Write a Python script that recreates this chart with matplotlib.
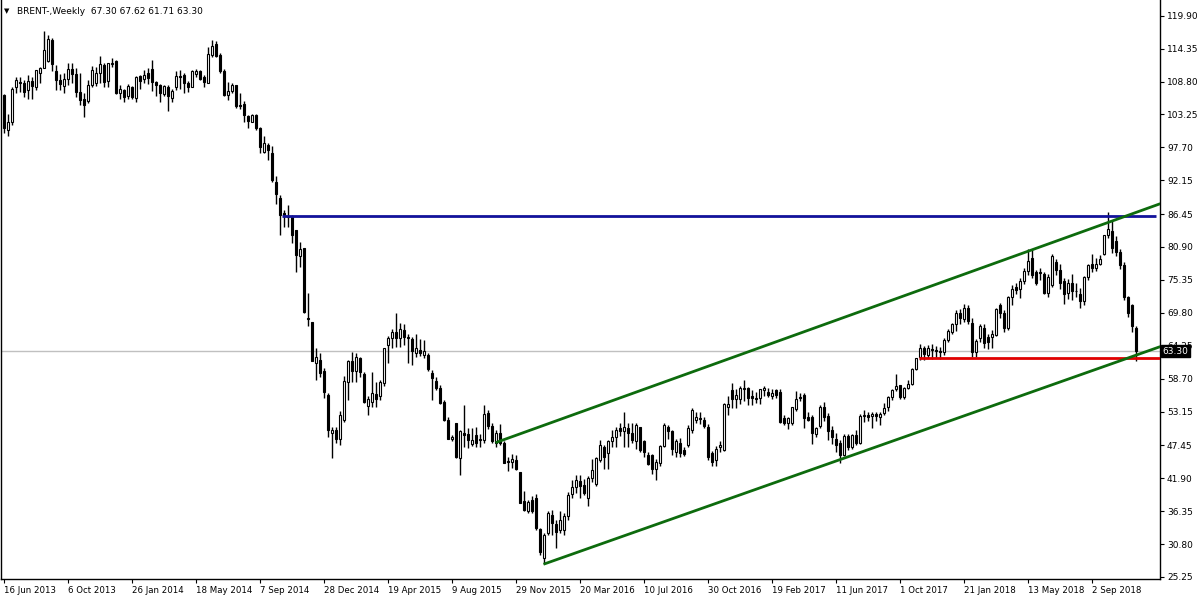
import matplotlib
matplotlib.use("Agg")
import matplotlib.pyplot as plt
import matplotlib.transforms as mtransforms
import numpy as np

# weekly Brent candles, one value per bar (bar 0 = week of 16 Jun 2013)
opens = [
    106.5, 100.7, 102.0, 107.9, 108.8, 108.6, 107.4, 108.9, 107.8, 110.3,
    111.1, 112.3, 115.8, 110.6, 109.1, 108.0, 109.2, 110.9, 110.1, 107.1,
    105.9, 105.6, 108.2, 108.5, 110.2, 111.6, 108.9, 111.8, 112.3, 106.9,
    107.4, 106.4, 107.9, 106.1, 109.7, 109.2, 110.2, 110.9, 108.7, 108.3,
    106.7, 107.9, 106.1, 107.8, 109.7, 109.9, 108.6, 107.9, 110.0, 110.6,
    109.6, 108.6, 113.2, 115.1, 113.3, 110.6, 106.5, 107.2, 108.2, 104.8,
    105.0, 103.0, 102.0, 103.2, 100.9, 97.0, 98.1, 96.8, 91.9, 89.1,
    86.6, 86.0, 86.0, 83.8, 79.3, 80.7, 69.0, 68.3, 61.4, 61.8,
    60.0, 55.9, 49.5, 50.0, 48.5, 51.8, 58.2, 61.7, 60.0, 62.1,
    59.4, 54.1, 54.8, 56.1, 55.7, 57.9, 64.4, 65.5, 66.5, 65.5,
    66.9, 65.8, 65.3, 63.0, 63.6, 62.7, 62.7, 59.7, 58.3, 57.2,
    54.8, 51.8, 48.5, 51.2, 45.3, 49.6, 49.3, 47.7, 49.2, 48.4,
    48.4, 52.9, 50.7, 47.9, 49.6, 47.9, 44.8, 44.6, 45.0, 43.0,
    38.1, 36.4, 38.3, 38.5, 33.3, 28.4, 32.6, 35.7, 34.2, 33.2,
    33.2, 35.5, 39.2, 40.5, 41.5, 40.8, 38.5, 42.0, 41.0, 45.0,
    47.2, 46.2, 48.1, 48.8, 50.3, 49.8, 50.3, 49.5, 48.1, 50.5,
    48.1, 45.8, 45.8, 43.4, 44.4, 47.3, 50.6, 49.8, 46.4, 47.9,
    46.6, 47.5, 50.0, 51.8, 52.0, 51.7, 50.6, 46.1, 44.9, 47.2,
    46.7, 54.0, 56.8, 55.2, 55.2, 57.0, 57.1, 55.7, 55.5, 55.4,
    56.8, 56.5, 55.8, 56.7, 56.5, 52.0, 51.3, 51.2, 53.5, 55.6,
    55.9, 52.3, 52.3, 49.4, 50.7, 54.0, 52.4, 50.0, 48.6, 47.8,
    45.8, 49.0, 47.2, 49.2, 47.9, 52.4, 52.6, 52.4, 52.7, 52.3,
    52.9, 53.9, 55.6, 56.9, 57.6, 55.6, 57.2, 57.8, 60.4, 62.4,
    63.8, 62.7, 63.7, 63.6, 63.3, 63.2, 65.2, 66.6, 67.9, 69.7,
    68.7, 70.6, 68.0, 63.2, 65.5, 67.2, 65.8, 65.7, 66.1, 71.1,
    69.7, 67.2, 72.5, 74.1, 73.8, 75.2, 76.9, 79.0, 76.7, 76.7,
    76.3, 73.1, 74.5, 78.4, 77.1, 75.2, 73.2, 74.9, 73.5, 72.9,
    71.8, 75.8, 78.0, 77.3, 78.0, 79.8, 82.9, 83.6, 81.9, 80.1,
    77.9, 72.5, 71.1, 67.30,
]
highs = [
    106.7, 103.4, 107.9, 109.5, 109.6, 109.1, 109.9, 109.6, 110.7, 111.3,
    117.3, 116.6, 116.1, 111.6, 110.0, 110.2, 112.0, 111.9, 111.0, 110.3,
    106.9, 109.1, 111.5, 111.3, 113.1, 112.0, 112.0, 112.7, 112.4, 108.2,
    107.6, 108.4, 108.0, 109.7, 109.9, 110.7, 111.0, 112.4, 108.9, 108.4,
    108.2, 108.2, 107.6, 110.5, 110.7, 110.2, 108.9, 110.7, 110.9, 110.7,
    109.9, 114.7, 115.8, 115.7, 113.6, 110.9, 108.8, 108.6, 108.2, 106.9,
    105.5, 103.2, 103.4, 103.3, 101.1, 99.6, 98.4, 97.9, 92.8, 89.7,
    87.2, 88.0, 86.3, 83.8, 81.8, 80.7, 73.1, 68.3, 63.8, 63.0,
    60.5, 56.2, 50.6, 50.5, 53.3, 59.1, 61.8, 63.2, 63.0, 62.4,
    59.9, 55.8, 59.8, 58.2, 58.5, 63.9, 65.9, 67.0, 69.7, 68.0,
    67.9, 66.3, 65.8, 66.3, 65.3, 65.2, 63.0, 60.2, 59.0, 57.6,
    55.1, 52.2, 49.2, 51.3, 50.0, 54.2, 50.3, 50.3, 50.6, 49.4,
    54.3, 53.4, 51.2, 50.0, 51.1, 48.1, 45.4, 46.0, 45.8, 43.0,
    39.8, 38.3, 38.9, 39.2, 33.5, 32.6, 36.4, 36.6, 34.9, 36.3,
    36.0, 39.6, 41.6, 42.4, 42.4, 41.7, 42.2, 45.1, 45.4, 48.3,
    47.5, 48.4, 50.0, 50.6, 51.2, 53.1, 51.3, 51.2, 51.3, 50.6,
    48.4, 46.4, 46.0, 45.1, 47.5, 51.3, 50.9, 50.0, 48.6, 48.7,
    47.2, 50.9, 53.8, 53.0, 53.0, 52.3, 51.0, 46.5, 47.3, 48.1,
    54.6, 55.7, 57.9, 57.0, 57.4, 58.5, 57.3, 56.8, 56.5, 57.0,
    57.4, 57.1, 57.0, 57.0, 56.9, 52.5, 52.3, 54.0, 56.6, 56.3,
    56.3, 53.1, 52.6, 50.5, 54.2, 54.7, 52.9, 50.7, 49.5, 48.3,
    49.3, 49.3, 49.4, 50.1, 52.8, 53.4, 53.0, 53.0, 53.1, 53.0,
    54.6, 55.7, 56.9, 59.5, 57.6, 57.3, 58.5, 60.5, 62.2, 64.6,
    64.2, 64.3, 64.6, 64.2, 64.1, 65.6, 67.1, 68.1, 70.3, 70.4,
    71.3, 71.1, 69.0, 65.3, 67.9, 67.9, 66.3, 66.9, 70.6, 71.5,
    70.3, 72.7, 74.5, 74.8, 75.6, 77.4, 80.5, 80.5, 77.0, 77.3,
    76.6, 76.4, 79.8, 78.9, 78.0, 75.6, 75.5, 76.3, 74.8, 73.9,
    76.0, 78.1, 79.7, 79.1, 79.5, 83.0, 86.8, 85.2, 82.8, 80.6,
    78.3, 72.7, 71.3, 67.62,
]
lows = [
    100.1, 99.6, 101.5, 106.8, 107.1, 106.2, 105.8, 105.8, 107.4, 108.6,
    111.0, 112.1, 110.5, 107.4, 107.4, 106.8, 108.2, 108.5, 106.2, 104.8,
    102.9, 105.2, 107.9, 108.0, 108.5, 107.9, 107.9, 111.3, 106.7, 105.9,
    105.4, 105.8, 105.9, 105.4, 107.6, 108.5, 108.4, 107.2, 106.4, 105.4,
    106.4, 103.9, 105.4, 107.4, 107.6, 106.8, 107.1, 107.8, 109.5, 109.1,
    107.8, 108.5, 113.0, 112.9, 110.3, 106.4, 105.7, 106.8, 104.4, 104.1,
    101.9, 101.0, 101.9, 100.6, 96.7, 96.8, 95.6, 91.9, 88.1, 82.9,
    84.2, 84.3, 81.6, 76.7, 77.6, 69.7, 67.5, 61.6, 58.5, 59.0,
    55.4, 48.9, 45.3, 47.9, 47.5, 51.4, 55.1, 58.2, 58.2, 59.0,
    54.6, 52.6, 53.9, 53.9, 55.1, 57.5, 61.3, 63.9, 64.1, 64.1,
    64.3, 61.3, 61.0, 62.4, 62.5, 62.1, 60.0, 55.1, 56.8, 54.5,
    51.6, 48.5, 48.1, 45.3, 42.5, 47.2, 47.0, 47.3, 47.2, 47.2,
    47.8, 50.2, 47.8, 47.2, 47.5, 44.4, 43.2, 43.6, 43.3, 37.7,
    36.4, 36.0, 36.0, 33.2, 29.0, 27.4, 32.3, 32.3, 30.1, 32.6,
    32.3, 34.9, 38.5, 39.4, 38.5, 39.1, 37.2, 41.3, 40.6, 44.7,
    43.4, 43.4, 47.2, 47.2, 49.0, 47.2, 47.2, 47.8, 46.9, 46.4,
    45.4, 44.1, 42.6, 41.6, 43.9, 47.2, 48.6, 45.8, 45.4, 45.5,
    45.7, 47.2, 49.6, 51.3, 51.0, 50.3, 44.9, 43.9, 44.0, 46.3,
    46.5, 52.6, 53.8, 53.8, 54.5, 54.9, 54.2, 54.2, 54.6, 54.4,
    55.7, 55.6, 55.3, 55.5, 51.2, 50.8, 50.2, 50.8, 53.3, 55.0,
    50.3, 51.6, 47.6, 48.9, 50.4, 51.5, 48.3, 47.7, 46.3, 44.4,
    45.6, 46.6, 46.8, 47.5, 47.6, 51.4, 51.5, 50.3, 51.6, 50.9,
    52.6, 53.3, 55.1, 56.6, 55.3, 55.3, 57.0, 57.6, 60.1, 61.9,
    61.9, 62.1, 62.0, 62.1, 62.0, 62.7, 64.9, 66.2, 66.8, 67.9,
    68.2, 67.9, 62.4, 62.3, 64.9, 63.9, 63.7, 63.9, 65.9, 68.9,
    66.5, 66.9, 71.1, 72.9, 72.3, 74.7, 76.2, 75.6, 74.5, 75.4,
    72.9, 72.5, 74.1, 76.2, 73.8, 71.3, 72.1, 72.0, 72.5, 70.6,
    71.2, 75.4, 76.6, 76.9, 77.9, 79.6, 82.4, 79.9, 79.4, 77.2,
    71.9, 69.1, 66.6, 61.71,
]
closes = [
    100.9, 102.0, 107.6, 109.1, 108.5, 107.1, 108.9, 108.1, 110.7, 111.0,
    114.1, 115.9, 111.7, 109.1, 108.4, 109.3, 110.9, 110.0, 107.1, 105.7,
    104.8, 108.3, 110.7, 110.3, 111.7, 108.8, 111.9, 111.9, 106.9, 107.5,
    106.2, 108.0, 106.2, 109.6, 108.9, 109.9, 109.4, 108.7, 108.3, 106.9,
    108.0, 106.4, 107.2, 109.7, 109.5, 108.6, 107.9, 110.6, 110.6, 109.3,
    108.8, 113.4, 114.8, 113.1, 110.5, 106.5, 107.2, 108.2, 104.6, 104.7,
    103.2, 102.2, 103.2, 100.9, 97.7, 98.4, 97.3, 92.2, 89.8, 86.3,
    86.3, 86.2, 82.9, 79.5, 80.6, 69.9, 68.7, 61.7, 62.3, 59.7,
    56.5, 50.1, 50.1, 48.6, 52.6, 58.3, 61.7, 60.0, 62.3, 59.9,
    54.8, 55.2, 56.2, 55.2, 58.1, 63.8, 65.5, 66.5, 65.5, 67.0,
    65.7, 65.5, 63.4, 63.9, 63.0, 63.4, 60.3, 58.8, 57.1, 54.6,
    51.7, 48.6, 48.9, 45.4, 49.9, 49.2, 48.4, 48.4, 47.8, 48.5,
    52.7, 50.7, 48.1, 49.5, 47.8, 44.5, 44.6, 45.1, 43.4, 37.8,
    36.6, 37.9, 36.3, 33.5, 29.4, 32.3, 36.0, 34.3, 32.9, 34.9,
    35.5, 39.1, 40.4, 41.6, 40.6, 39.4, 42.0, 43.3, 45.3, 47.5,
    45.4, 48.1, 48.9, 50.1, 49.9, 50.6, 49.5, 48.4, 50.9, 46.7,
    46.3, 44.3, 43.4, 44.7, 47.3, 50.9, 49.9, 46.8, 48.1, 46.1,
    46.0, 50.3, 53.4, 52.3, 51.9, 50.7, 45.5, 44.7, 46.9, 47.5,
    54.5, 54.5, 55.3, 55.9, 57.1, 57.2, 55.4, 55.4, 55.3, 56.9,
    57.1, 56.0, 56.3, 56.0, 51.4, 51.2, 52.0, 53.9, 55.2, 55.4,
    52.0, 51.8, 49.6, 50.4, 53.9, 52.3, 49.9, 48.8, 47.5, 45.8,
    49.0, 47.2, 49.2, 47.9, 52.4, 52.6, 52.2, 52.7, 52.4, 52.8,
    53.8, 55.6, 56.8, 57.5, 55.6, 57.2, 57.8, 60.4, 62.1, 63.8,
    62.8, 63.8, 63.6, 63.4, 63.2, 65.2, 66.7, 67.9, 69.8, 68.9,
    70.6, 68.5, 63.2, 65.0, 67.5, 64.7, 64.8, 66.2, 70.4, 69.7,
    67.2, 72.5, 73.8, 73.6, 75.2, 76.9, 78.6, 76.2, 74.9, 76.5,
    73.1, 75.9, 79.4, 77.0, 74.9, 73.0, 74.9, 73.4, 73.4, 71.8,
    75.8, 77.9, 77.3, 78.1, 78.8, 82.9, 84.0, 80.7, 80.1, 77.9,
    72.5, 69.7, 67.5, 63.30,
]

date_labels = ["16 Jun 2013", "6 Oct 2013", "26 Jan 2014", "18 May 2014",
               "7 Sep 2014", "28 Dec 2014", "19 Apr 2015", "9 Aug 2015",
               "29 Nov 2015", "20 Mar 2016", "10 Jul 2016", "30 Oct 2016",
               "19 Feb 2017", "11 Jun 2017", "1 Oct 2017", "21 Jan 2018",
               "13 May 2018", "2 Sep 2018"]
label_step = 16  # bars between date labels

price_ticks = [25.25, 30.80, 36.35, 41.90, 47.45, 53.15, 58.70, 64.25, 69.80,
               75.35, 80.90, 86.45, 92.15, 97.70, 103.25, 108.80, 114.35, 119.90]

header = "BRENT-,Weekly  67.30 67.62 61.71 63.30"
bid = 63.30

# drawn objects: (start bar, end bar, start price, end price)
resistance = (69.6, 288.1, 86.2, 86.2)
support = (228.9, 289.2, 62.1, 62.1)
channel_top = (123.0, 289.2, 47.9, 88.2)
channel_bottom = (135.0, 289.2, 27.4, 64.1)

# ---------------------------------------------------------------
o = np.array(opens)
h = np.array(highs)
l = np.array(lows)
c = np.array(closes)
x = np.arange(len(c))

fig = plt.figure(figsize=(12, 6), dpi=100)
ax = fig.add_axes([1 / 1200, 20.7 / 600, 1159 / 1200, 579.3 / 600])

ax.set_xlim(-0.625, 289.125)
ax.set_ylim(24.86, 122.55)

ax.axhline(bid, color="#c0c0c0", lw=1, zorder=1)

ax.vlines(x, np.minimum(l, np.minimum(o, c)), np.maximum(h, np.maximum(o, c)),
          color="black", lw=1, zorder=2)
up = c >= o
bottom = np.minimum(o, c)
height = np.maximum(np.abs(c - o), 0.12)
ax.bar(x[up], height[up], bottom=bottom[up], width=0.5, color="white",
       edgecolor="black", lw=0.8, zorder=3)
ax.bar(x[~up], height[~up], bottom=bottom[~up], width=0.5, color="black",
       edgecolor="black", lw=0.8, zorder=3)

for (x0, x1, y0, y1), col in [(resistance, "#12129a"), (support, "#e00000"),
                              (channel_top, "#0d6b0d"), (channel_bottom, "#0d6b0d")]:
    ax.plot([x0, x1], [y0, y1], color=col, lw=2, zorder=4, solid_capstyle="butt")

ax.spines["top"].set_visible(False)
for s in ["left", "bottom", "right"]:
    ax.spines[s].set_linewidth(1)

ax.yaxis.tick_right()
ax.set_yticks(price_ticks)
ax.set_yticklabels(["%.2f" % p for p in price_ticks])
ax.tick_params(axis="y", direction="out", length=3, width=0.8, pad=2,
               labelsize=6.5, right=True, left=False)

ax.set_xticks(np.arange(len(date_labels)) * label_step)
ax.set_xticklabels(date_labels, ha="left")
ax.tick_params(axis="x", direction="out", length=3, width=0.8, pad=2, labelsize=6.2)

trans = mtransforms.blended_transform_factory(ax.transAxes, ax.transData)
ax.text(1.002, bid, "%.2f" % bid, transform=trans, ha="left", va="center",
        fontsize=6.5, color="white", zorder=10, clip_on=False,
        bbox=dict(facecolor="black", edgecolor="black", pad=1.2))

fig.text(4 / 1200, 1 - 11 / 600, "\u25bc", fontsize=5, va="center")
fig.text(17 / 1200, 1 - 11 / 600, header, fontsize=6.5, va="center")

fig.savefig("out.png", dpi=100, facecolor="white")
